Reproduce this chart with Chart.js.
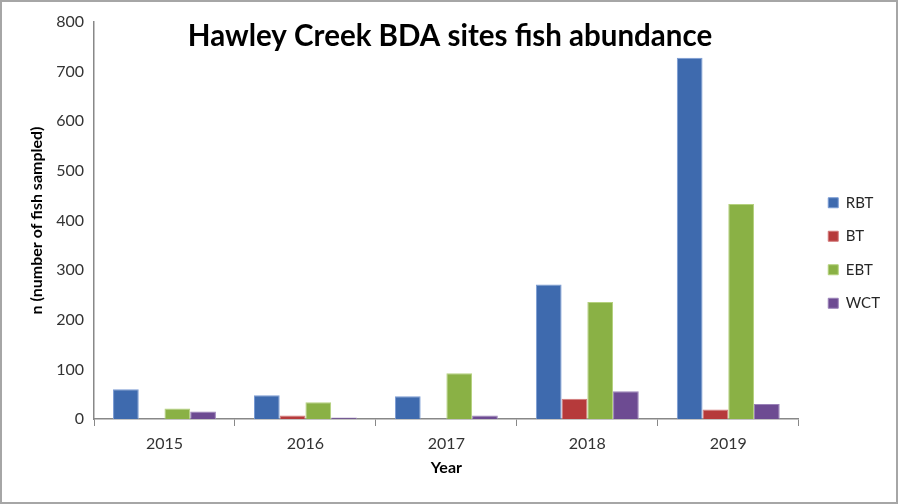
<!DOCTYPE html>
<html>
<head>
<meta charset="utf-8">
<title>Hawley Creek BDA sites fish abundance</title>
<script src="https://cdn.jsdelivr.net/npm/chart.js@4.4.1/dist/chart.umd.min.js"></script>
<style>
  body { margin: 0; background: #fff; }
  #wrap { position: relative; width: 901px; height: 504px; }
  #frame { position: absolute; left: 0; top: 0; width: 898px; height: 504px; border: 2px solid #a6a6a6; box-sizing: border-box; pointer-events: none; }
</style>
</head>
<body>
<div id="wrap">
  <canvas id="fishChart" width="901" height="504"></canvas>
  <div id="frame"></div>
</div>
<script>
// data
const years = ['2015', '2016', '2017', '2018', '2019'];
const species = ['RBT', 'BT', 'EBT', 'WCT'];
const rbt = [60, 48, 46, 271, 728];
const bt = [0, 7, 0, 41, 19];
const ebt = [21, 34, 92, 236, 433];
const wct = [15, 3, 7, 56, 30];
const yMax = 800;
const yStep = 100;

const fills = ['#3e6aae', '#b63a3b', '#8ab145', '#6d4b92'];
const edges = ['#7a9bd3', '#d27a7a', '#b5d17e', '#9a82b8'];
const fontName = 'Lato';

// title sits inside the plot area in the original, so draw it by hand
const overlayTitle = {
    id: 'overlayTitle',
    afterDraw(chart) {
        const ctx = chart.ctx;
        ctx.save();
        ctx.font = 'bold 29.5px ' + fontName;
        ctx.fillStyle = '#000';
        ctx.textAlign = 'center';
        ctx.fillText('Hawley Creek BDA sites fish abundance', 450, 46);
        ctx.restore();
    }
};

// push the legend a bit further right
const legendNudge = {
    id: 'legendNudge',
    afterLayout(chart) {
        chart.legend.left += 11;
        chart.legend.right += 11;
    }
};

const seriesData = [rbt, bt, ebt, wct];

const ctx = document.getElementById('fishChart').getContext('2d');
const fishChart = new Chart(ctx, {
    type: 'bar',
    data: {
        labels: years,
        datasets: species.map((name, i) => ({
            label: name,
            data: seriesData[i],
            backgroundColor: fills[i],
            borderColor: edges[i],
            borderWidth: 1,
            categoryPercentage: 0.73,
            barPercentage: 1
        }))
    },
    options: {
        responsive: false,
        animation: false,
        devicePixelRatio: 1,
        layout: {
            padding: { left: 10, top: 22, right: 22, bottom: 20 }
        },
        plugins: {
            title: { display: false },
            tooltip: { enabled: false },
            legend: {
                position: 'right',
                labels: {
                    boxWidth: 10,
                    boxHeight: 10,
                    padding: 18.5,
                    color: '#262626',
                    font: { family: fontName, size: 15 }
                }
            }
        },
        scales: {
            x: {
                grid: {
                    drawOnChartArea: false,
                    drawTicks: true,
                    tickLength: 7,
                    color: '#888'
                },
                border: { color: '#888', width: 1.5 },
                ticks: {
                    padding: 8,
                    color: '#333',
                    font: { family: fontName, size: 16 }
                },
                title: {
                    display: true,
                    text: 'Year',
                    color: '#000',
                    padding: { top: 0, bottom: 7 },
                    font: { family: fontName, size: 16, weight: 'bold' }
                },
                afterFit(scale) { scale.height = 65; }
            },
            y: {
                min: 0,
                max: yMax,
                grid: { display: false, drawTicks: false },
                border: { color: '#888', width: 1.5 },
                ticks: {
                    stepSize: yStep,
                    padding: 10,
                    color: '#333',
                    font: { family: fontName, size: 16 }
                },
                title: {
                    display: true,
                    text: 'n (number of fish sampled)',
                    color: '#000',
                    padding: { top: 17, bottom: 0 },
                    font: { family: fontName, size: 16, weight: 'bold' }
                },
                afterFit(scale) { scale.width = 84; }
            }
        }
    },
    plugins: [overlayTitle, legendNudge]
});
</script>
</body>
</html>
